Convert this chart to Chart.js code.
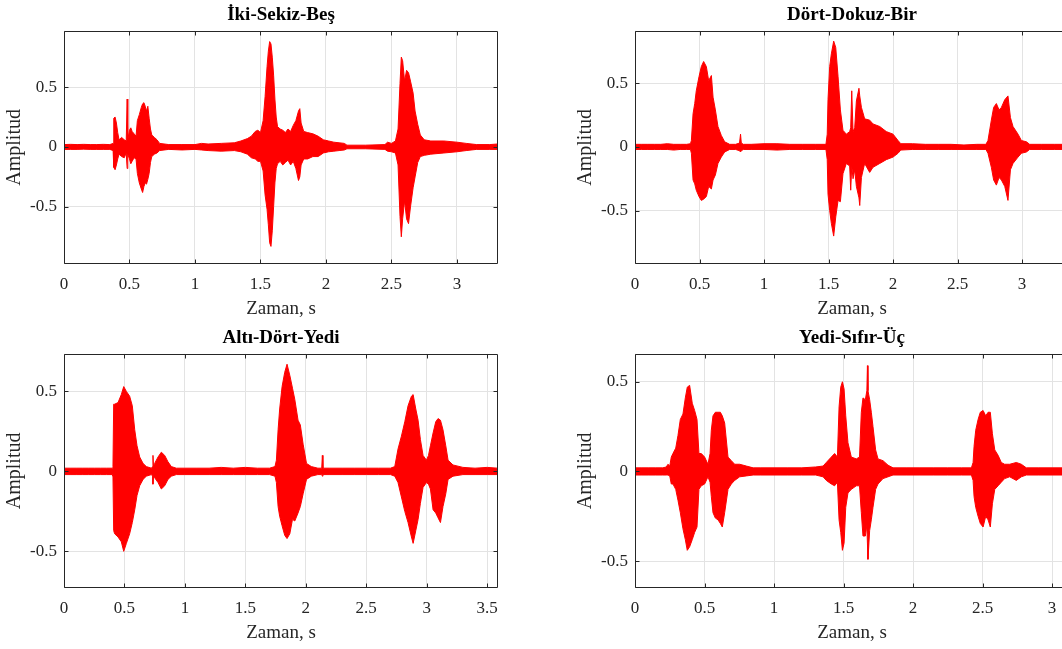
<!DOCTYPE html>
<html><head><meta charset="utf-8">
<script src="https://cdn.jsdelivr.net/npm/chart.js@4/dist/chart.umd.min.js"></script>
<style>
html,body{margin:0;padding:0;overflow:hidden;background:#fff;width:1062px;height:649px;position:relative}
.p{position:absolute}
</style></head><body>
<div class="p" style="left:0;top:0;width:520px;height:320px"><canvas id="c1" width="520" height="320"></canvas></div>
<div class="p" style="left:571px;top:0;width:520px;height:320px"><canvas id="c2" width="520" height="320"></canvas></div>
<div class="p" style="left:0;top:323px;width:520px;height:321px"><canvas id="c3" width="520" height="321"></canvas></div>
<div class="p" style="left:571px;top:323px;width:520px;height:321px"><canvas id="c4" width="520" height="321"></canvas></div>
<script>
// ---------- Panel 1: İki-Sekiz-Beş ----------
const title1 = 'İki-Sekiz-Beş';
const time1 = [
 0,0.05,0.10,0.15,0.20,0.25,0.30,0.35,
 0.375,0.38,0.39,0.40,0.41,0.42,0.44,0.46,
 0.475,0.482,0.487,0.50,0.51,0.52,0.535,0.55,
 0.56,0.575,0.59,0.60,0.61,0.62,0.63,0.64,
 0.65,0.66,0.67,0.69,0.71,0.73,0.80,0.90,
 1.00,1.05,1.10,1.20,1.30,1.35,1.40,1.43,
 1.46,1.48,1.50,1.52,1.535,1.55,1.56,1.57,
 1.58,1.59,1.60,1.61,1.62,1.63,1.65,1.67,
 1.69,1.71,1.73,1.75,1.77,1.79,1.80,1.81,
 1.83,1.86,1.90,1.94,1.98,2.02,2.06,2.10,
 2.14,2.16,2.30,2.45,2.47,2.50,2.53,2.55,
 2.565,2.575,2.585,2.60,2.615,2.63,2.645,2.665,
 2.68,2.70,2.72,2.75,2.80,2.90,3.00,3.07,
 3.15,3.25,3.31];
const upper1 = [
 .02,.022,.02,.022,.02,.02,.022,.02,
 .03,.24,.25,.20,.12,.06,.08,.06,
 .05,.40,.06,.14,.16,.13,.11,.09,
 .22,.27,.33,.36,.37,.34,.30,.34,
 .24,.15,.10,.08,.06,.03,.02,.02,
 .02,.03,.025,.03,.035,.05,.07,.09,
 .13,.14,.12,.22,.42,.67,.80,.88,
 .86,.75,.60,.40,.25,.17,.15,.14,
 .12,.15,.13,.18,.22,.30,.32,.20,
 .13,.12,.11,.09,.06,.05,.04,.035,
 .03,.015,.015,.02,.04,.03,.05,.15,
 .53,.75,.72,.55,.64,.62,.55,.45,
 .30,.19,.10,.06,.05,.05,.04,.03,
 .02,.02,.025];
const lower1 = [
 -.02,-.02,-.02,-.018,-.02,-.02,-.02,-.02,
 -.03,-.17,-.19,-.15,-.10,-.06,-.08,-.09,
 -.05,-.18,-.06,-.10,-.14,-.12,-.09,-.10,
 -.22,-.30,-.35,-.38,-.33,-.30,-.31,-.27,
 -.22,-.13,-.08,-.06,-.05,-.03,-.02,-.025,
 -.02,-.025,-.03,-.035,-.03,-.04,-.06,-.09,
 -.10,-.12,-.12,-.20,-.40,-.52,-.65,-.80,
 -.83,-.70,-.50,-.30,-.18,-.14,-.12,-.15,
 -.13,-.11,-.15,-.12,-.18,-.28,-.25,-.15,
 -.10,-.10,-.08,-.08,-.05,-.04,-.035,-.03,
 -.025,-.015,-.015,-.02,-.035,-.04,-.05,-.15,
 -.58,-.75,-.60,-.45,-.60,-.64,-.50,-.34,
 -.25,-.13,-.08,-.07,-.06,-.05,-.04,-.03,
 -.02,-.02,-.02];

// ---------- Panel 2: Dört-Dokuz-Bir ----------
const title2 = 'Dört-Dokuz-Bir';
const time2 = [
 0,0.05,0.10,0.15,0.20,0.25,0.30,0.35,
 0.40,0.43,0.437,0.45,0.463,0.475,0.496,0.514,
 0.532,0.553,0.571,0.592,0.605,0.623,0.643,0.669,
 0.695,0.734,0.78,0.81,0.818,0.824,0.84,0.90,
 1.0,1.1,1.2,1.3,1.4,1.48,1.49,1.496,
 1.509,1.522,1.540,1.556,1.574,1.592,1.612,1.638,
 1.664,1.672,1.680,1.690,1.703,1.716,1.736,1.742,
 1.755,1.780,1.819,1.845,1.897,1.948,2.0,2.039,
 2.06,2.15,2.25,2.35,2.45,2.55,2.65,2.72,
 2.736,2.762,2.780,2.801,2.822,2.840,2.866,2.891,
 2.910,2.930,2.969,2.995,3.034,3.059,3.15,3.25,
 3.36];
const upper2 = [
 .02,.02,.02,.02,.02,.025,.02,.02,
 .02,.025,.05,.26,.34,.44,.55,.63,
 .67,.63,.52,.56,.39,.29,.16,.09,
 .04,.02,.02,.03,.10,.03,.02,.02,
 .025,.025,.02,.02,.02,.02,.10,.37,
 .63,.73,.83,.78,.55,.29,.13,.10,
 .12,.15,.44,.12,.15,.36,.46,.40,
 .31,.22,.21,.18,.16,.12,.10,.05,
 .025,.025,.02,.02,.02,.015,.02,.02,
 .05,.21,.31,.34,.29,.31,.37,.40,
 .23,.16,.10,.05,.04,.02,.02,.02,
 .02];
const lower2 = [
 -.02,-.02,-.02,-.02,-.02,-.02,-.025,-.02,
 -.02,-.02,-.05,-.26,-.29,-.34,-.39,-.42,
 -.41,-.39,-.31,-.33,-.26,-.22,-.13,-.08,
 -.04,-.02,-.02,-.03,-.04,-.03,-.02,-.02,
 -.02,-.025,-.02,-.02,-.02,-.02,-.10,-.37,
 -.50,-.60,-.70,-.55,-.42,-.43,-.21,-.13,
 -.15,-.34,-.15,-.25,-.18,-.31,-.40,-.46,
 -.24,-.13,-.20,-.16,-.13,-.10,-.08,-.05,
 -.025,-.02,-.02,-.02,-.02,-.02,-.02,-.02,
 -.05,-.16,-.26,-.30,-.24,-.26,-.31,-.42,
 -.18,-.13,-.08,-.05,-.04,-.02,-.02,-.02,
 -.02];

// ---------- Panel 3: Altı-Dört-Yedi ----------
const title3 = 'Altı-Dört-Yedi';
const time3 = [
 0,0.05,0.10,0.15,0.20,0.25,0.30,0.35,0.40,
 0.405,0.411,0.419,0.447,0.474,0.494,0.516,0.543,
 0.565,0.585,0.604,0.626,0.654,0.681,0.723,0.733,
 0.736,0.740,0.750,0.778,0.805,0.833,0.860,0.888,
 0.929,
 1.0,1.1,1.2,1.3,1.4,1.5,1.6,1.7,
 1.745,1.757,1.771,1.784,1.804,1.826,1.845,1.868,
 1.890,1.909,1.936,1.955,1.978,2.006,2.046,2.10,
 2.132,2.137,2.142,
 2.2,2.3,2.4,2.5,2.6,2.7,
 2.736,2.763,2.791,2.819,2.846,2.874,2.888,2.910,
 2.929,2.948,2.970,2.998,3.015,3.031,3.053,3.075,
 3.094,3.114,3.135,3.158,3.177,3.218,3.30,3.40,
 3.50,3.59];
const upper3 = [
 .02,.02,.02,.02,.02,.02,.02,.02,.02,
 .03,.42,.42,.43,.48,.53,.50,.47,
 .41,.26,.16,.09,.05,.03,.02,.03,
 .10,.03,.05,.09,.12,.10,.06,.03,
 .02,
 .02,.02,.02,.025,.02,.025,.02,.02,
 .03,.07,.26,.39,.53,.62,.67,.60,
 .52,.45,.32,.29,.17,.05,.03,.02,
 .02,.10,.02,
 .02,.02,.02,.02,.02,.02,
 .03,.14,.22,.31,.41,.47,.48,.39,
 .32,.20,.10,.07,.10,.16,.24,.31,
 .33,.32,.26,.16,.07,.04,.025,.02,
 .025,.02];
const lower3 = [
 -.02,-.02,-.02,-.02,-.02,-.02,-.02,-.02,-.02,
 -.03,-.37,-.39,-.41,-.44,-.50,-.45,-.39,
 -.32,-.24,-.15,-.09,-.05,-.03,-.02,-.03,
 -.08,-.03,-.04,-.07,-.11,-.09,-.05,-.03,
 -.02,
 -.02,-.02,-.02,-.02,-.02,-.02,-.02,-.02,
 -.03,-.07,-.22,-.28,-.34,-.40,-.42,-.39,
 -.30,-.31,-.26,-.22,-.14,-.05,-.03,-.02,
 -.02,-.03,-.02,
 -.02,-.02,-.02,-.02,-.02,-.02,
 -.03,-.07,-.16,-.25,-.32,-.41,-.45,-.37,
 -.30,-.20,-.10,-.07,-.08,-.11,-.24,-.26,
 -.29,-.32,-.22,-.14,-.05,-.03,-.02,-.02,
 -.02,-.02];

// ---------- Panel 4: Yedi-Sıfır-Üç ----------
const title4 = 'Yedi-Sıfır-Üç';
const time4 = [
 0,0.05,0.10,0.15,0.20,0.225,0.237,0.25,
 0.261,0.273,0.293,0.309,0.326,0.345,0.362,0.376,
 0.393,0.412,0.429,0.446,0.460,0.477,0.501,0.525,
 0.540,0.549,0.561,0.578,0.597,0.614,0.628,0.645,
 0.669,0.693,0.717,0.753,0.801,0.85,0.90,1.0,
 1.1,1.2,1.3,1.353,1.376,1.412,1.436,1.456,
 1.468,1.480,1.492,1.504,1.516,1.532,1.556,1.592,
 1.615,1.628,1.640,1.657,1.668,1.672,1.676,1.688,
 1.700,1.712,1.731,1.748,1.784,1.820,1.856,1.95,
 2.05,2.15,2.25,2.35,2.42,2.432,2.439,2.451,
 2.468,2.484,2.504,2.523,2.540,2.556,2.571,2.588,
 2.612,2.635,2.659,2.695,2.743,2.779,2.815,2.90,
 3.00,3.12];
const upper4 = [
 .02,.02,.02,.02,.02,.025,.04,.03,
 .08,.10,.13,.20,.29,.32,.41,.47,
 .48,.38,.34,.29,.10,.10,.08,.04,
 .10,.23,.31,.33,.33,.33,.31,.27,
 .08,.06,.04,.04,.03,.02,.02,.02,
 .02,.02,.025,.03,.05,.08,.10,.08,
 .36,.47,.50,.46,.31,.16,.08,.07,
 .08,.33,.41,.40,.45,.59,.45,.40,
 .33,.25,.12,.07,.06,.035,.02,.02,
 .02,.02,.02,.02,.02,.05,.14,.23,
 .29,.33,.34,.31,.33,.33,.21,.12,
 .09,.05,.04,.04,.05,.04,.02,.02,
 .02,.02];
const lower4 = [
 -.02,-.02,-.02,-.02,-.02,-.02,-.02,-.025,
 -.07,-.07,-.10,-.16,-.23,-.32,-.38,-.44,
 -.42,-.38,-.34,-.31,-.10,-.08,-.07,-.03,
 -.06,-.14,-.23,-.26,-.27,-.29,-.31,-.23,
 -.10,-.07,-.05,-.03,-.025,-.02,-.02,-.02,
 -.02,-.02,-.02,-.03,-.05,-.07,-.08,-.06,
 -.27,-.34,-.44,-.40,-.20,-.12,-.10,-.08,
 -.08,-.23,-.36,-.36,-.30,-.40,-.49,-.33,
 -.27,-.20,-.10,-.07,-.04,-.03,-.02,-.02,
 -.02,-.02,-.02,-.02,-.02,-.05,-.14,-.20,
 -.25,-.29,-.31,-.25,-.27,-.31,-.18,-.10,
 -.08,-.06,-.04,-.03,-.05,-.03,-.02,-.02,
 -.02,-.02];

const xTickStep = 0.5;
const yTickStep = 0.5;
const xLabel = 'Zaman, s';
const yLabel = 'Amplitud';

const FONT = "'Liberation Serif','Times New Roman',serif";
const AX = '#262626';
const fmt = v => String(Math.round(v * 100) / 100);

const framePlugin = {
  id: 'frame',
  afterDatasetsDraw(chart) {
    const {ctx, chartArea: a, scales: {x, y}} = chart;
    ctx.save();
    ctx.strokeStyle = AX;
    ctx.lineWidth = 1;
    const L = Math.round(a.left) + 0.5, R = Math.round(a.right) - 0.5;
    const T = Math.round(a.top) + 0.5, B = Math.round(a.bottom) - 0.5;
    ctx.beginPath();
    ctx.rect(L, T, R - L, B - T);
    const tl = 4;
    x.ticks.forEach(t => {
      const px = Math.round(x.getPixelForValue(t.value)) + 0.5;
      ctx.moveTo(px, B); ctx.lineTo(px, B - tl);
      ctx.moveTo(px, T); ctx.lineTo(px, T + tl);
    });
    y.ticks.forEach(t => {
      const py = Math.round(y.getPixelForValue(t.value)) + 0.5;
      ctx.moveTo(L, py); ctx.lineTo(L + tl, py);
      ctx.moveTo(R, py); ctx.lineTo(R - tl, py);
    });
    ctx.stroke();
    ctx.restore();
  }
};

function makeChart(id, title, t, up, lo, xmax, ymin, ymax) {
  const upData = t.map((v, i) => ({x: v, y: up[i]}));
  const loData = t.map((v, i) => ({x: v, y: lo[i]}));
  return new Chart(document.getElementById(id), {
    type: 'line',
    data: {datasets: [
      {data: upData, borderColor: '#ff0000', backgroundColor: '#ff0000', borderWidth: 1,
       pointRadius: 0, tension: 0, fill: '+1'},
      {data: loData, borderColor: '#ff0000', backgroundColor: '#ff0000', borderWidth: 1,
       pointRadius: 0, tension: 0, fill: false}
    ]},
    options: {
      responsive: false,
      animation: false,
      events: [],
      layout: {padding: {left: 0, right: 22, top: 0, bottom: 0}},
      plugins: {
        legend: {display: false},
        tooltip: {enabled: false},
        title: {display: true, text: title, color: '#000', fullSize: false,
                font: {family: FONT, size: 19, weight: 'bold'}, padding: {top: 4, bottom: 4}}
      },
      scales: {
        x: {
          type: 'linear', min: 0, max: xmax,
          ticks: {stepSize: xTickStep, includeBounds: false, color: AX, maxRotation: 0, autoSkip: false,
                  font: {family: FONT, size: 17}, padding: 10, callback: fmt},
          grid: {color: '#e3e3e3', drawTicks: false, lineWidth: 1},
          border: {display: false},
          title: {display: true, text: xLabel, color: AX, font: {family: FONT, size: 19},
                  padding: {top: 0, bottom: 0}},
          afterFit(s) { s.height = 56; }
        },
        y: {
          min: ymin, max: ymax,
          ticks: {stepSize: yTickStep, includeBounds: false, color: AX,
                  font: {family: FONT, size: 17}, padding: 7, callback: fmt},
          grid: {color: '#e3e3e3', drawTicks: false, lineWidth: 1},
          border: {display: false},
          title: {display: true, text: yLabel, color: AX, font: {family: FONT, size: 20},
                  padding: {top: 3, bottom: 0}},
          afterFit(s) { s.width = 64; }
        }
      }
    },
    plugins: [framePlugin]
  });
}

makeChart('c1', title1, time1, upper1, lower1, 3.313, -0.977, 0.970);
makeChart('c2', title2, time2, upper2, lower2, 3.364, -0.919, 0.911);
makeChart('c3', title3, time3, upper3, lower3, 3.59, -0.729, 0.735);
makeChart('c4', title4, time4, upper4, lower4, 3.122, -0.650, 0.656);
</script>
</body></html>
